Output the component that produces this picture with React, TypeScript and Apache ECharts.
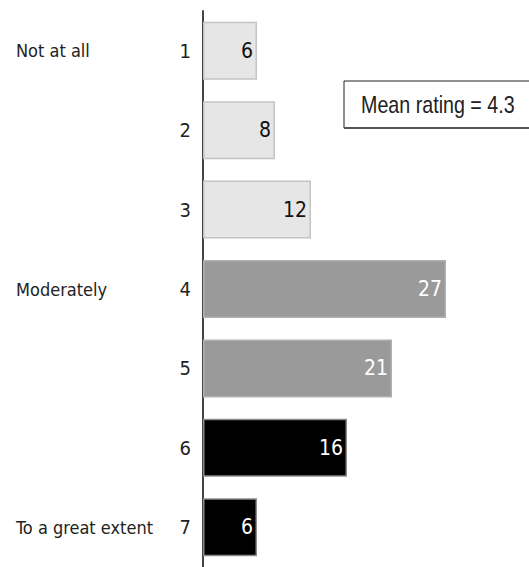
import React, { useEffect, useRef } from "react";
import * as echarts from "echarts";

const ratings = ["1", "2", "3", "4", "5", "6", "7"];
const anchorLabels = ["Not at all", "", "", "Moderately", "", "", "To a great extent"];
const percentages = [6, 8, 12, 27, 21, 16, 6];
const tiers = ["low", "low", "low", "mid", "mid", "high", "high"];
const meanRating = 4.3;

const tierStyle: Record<string, { fill: string; border: string; text: string }> = {
  low: { fill: "#e6e6e6", border: "#c4c4c4", text: "#111111" },
  mid: { fill: "#9a9a9a", border: "#b0b0b0", text: "#ffffff" },
  high: { fill: "#000000", border: "#8a8a8a", text: "#ffffff" },
};

const COND = "'DejaVu Sans Condensed', 'DejaVu Sans', sans-serif";
const SANS = "'Liberation Sans', Arial, sans-serif";

export default function App() {
  const ref = useRef<HTMLDivElement>(null);
  useEffect(() => {
    if (!ref.current) return;
    const chart = echarts.init(ref.current, null, { renderer: "svg" });
    const data = percentages.map((v, i) => {
      const s = tierStyle[tiers[i]];
      return {
        value: v,
        itemStyle: { color: s.fill, borderColor: s.border, borderWidth: 1.5 },
        label: { color: s.text },
      };
    });
    chart.setOption({
      animation: false,
      grid: { left: 203, top: 11, width: 324, height: 563 },
      xAxis: {
        type: "value",
        min: 0,
        max: 36,
        show: false,
      },
      yAxis: [
        {
          type: "category",
          data: ratings,
          inverse: true,
          axisLine: { show: true, lineStyle: { color: "#444444", width: 2 } },
          axisTick: { show: false },
          axisLabel: {
            margin: 12,
            fontFamily: COND,
            fontSize: 20,
            color: "#222222",
          },
          splitLine: { show: false },
        },
        {
          type: "category",
          data: anchorLabels,
          inverse: true,
          position: "left",
          offset: 0,
          axisLine: { show: false },
          axisTick: { show: false },
          axisLabel: {
            margin: 187,
            align: "left",
            fontFamily: COND,
            fontSize: 18,
            color: "#222222",
            interval: 0,
          },
          splitLine: { show: false },
        },
      ],
      series: [
        {
          type: "bar",
          yAxisIndex: 0,
          data,
          barWidth: 58,
          label: {
            show: true,
            position: "insideRight",
            distance: 4,
            fontFamily: COND,
            fontSize: 21,
          },
        },
      ],
      graphic: [
        {
          type: "rect",
          shape: { x: 344, y: 81, width: 200, height: 47 },
          style: { fill: "#ffffff", stroke: "#222222", lineWidth: 1 },
          z: 10,
        },
        {
          type: "line",
          shape: { x1: 344, y1: 128, x2: 529, y2: 128 },
          style: { stroke: "#555555", lineWidth: 2 },
          z: 11,
        },
        {
          type: "text",
          x: 361,
          y: 104.5,
          scaleX: 0.82,
          style: {
            text: "Mean rating = " + meanRating.toFixed(1),
            fontFamily: SANS,
            fontSize: 24,
            fill: "#222222",
            verticalAlign: "middle",
            align: "left",
          },
          z: 12,
        },
      ],
    });
    return () => chart.dispose();
  }, []);
  return (
    <div
      ref={ref}
      style={{ position: "absolute", left: 0, top: 0, width: 529, height: 567 }}
    />
  );
}
